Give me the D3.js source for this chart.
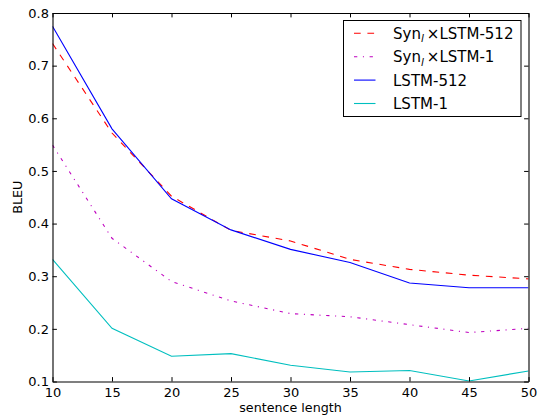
<!DOCTYPE html>
<html>
<head>
<meta charset="utf-8">
<script src="https://cdn.jsdelivr.net/npm/d3@7"></script>
<style>
  body { margin: 0; background: #fff; }
  svg { font-family: "DejaVu Sans", sans-serif; }
</style>
</head>
<body>
<div id="chart"></div>
<script>
var width = 542,
    height = 416;

// data
var lengths = [10, 15, 20, 25, 30, 35, 40, 45, 50];
var synLstm512 = [0.742, 0.572, 0.452, 0.387, 0.367, 0.332, 0.313, 0.302, 0.295];
var synLstm1 = [0.549, 0.372, 0.290, 0.253, 0.229, 0.223, 0.208, 0.193, 0.201];
var lstm512 = [0.775, 0.580, 0.447, 0.388, 0.351, 0.326, 0.287, 0.278, 0.278];
var lstm1 = [0.332, 0.201, 0.148, 0.153, 0.131, 0.118, 0.121, 0.101, 0.120];
var xTicks = [10, 15, 20, 25, 30, 35, 40, 45, 50];
var yTicks = [0.1, 0.2, 0.3, 0.4, 0.5, 0.6, 0.7, 0.8];

var series = [
  {name: "LSTM-512", syn: true, values: synLstm512, color: "#ff0000", dash: "6.7,6.7"},
  {name: "LSTM-1", syn: true, values: synLstm1, color: "#bf00bf", dash: "3.3,5.6,1.1,5.6"},
  {name: "LSTM-512", syn: false, values: lstm512, color: "#0000ff", dash: null},
  {name: "LSTM-1", syn: false, values: lstm1, color: "#00bfbf", dash: null}
];

var padL = 52.5, padR = 528.5, padT = 13, padB = 381.5;

var x = d3.scaleLinear().domain([10, 50]).range([padL, padR]);
var y = d3.scaleLinear().domain([0.1, 0.8]).range([padB, padT]);

var svg = d3.select("#chart").append("svg")
    .attr("width", width)
    .attr("height", height);

// lines
var line = d3.line()
    .x(function(d, i) { return x(lengths[i]); })
    .y(function(d) { return y(d); });

var plot = svg.append("g");
plot.append("defs").append("clipPath").attr("id", "clip")
  .append("rect").attr("x", padL).attr("y", padT)
    .attr("width", padR - padL).attr("height", padB - padT);

series.forEach(function(s) {
  plot.append("path")
    .datum(s.values)
    .attr("clip-path", "url(#clip)")
    .attr("fill", "none")
    .attr("stroke", s.color)
    .attr("stroke-width", 1.1)
    .attr("stroke-dasharray", s.dash)
    .attr("d", line);
});

// axes, ticks inward on all four sides
var fmt = d3.format(".1f");
svg.append("g")
    .attr("transform", "translate(0," + padB + ")")
    .call(d3.axisBottom(x).tickValues(xTicks).tickSizeInner(-4.4).tickSizeOuter(0).tickPadding(6));
svg.append("g")
    .attr("transform", "translate(0," + padT + ")")
    .call(d3.axisTop(x).tickValues(xTicks).tickSizeInner(-4.4).tickSizeOuter(0).tickFormat(""));
svg.append("g")
    .attr("transform", "translate(" + padL + ",0)")
    .call(d3.axisLeft(y).tickValues(yTicks).tickSizeInner(-4.4).tickSizeOuter(0).tickPadding(3.5).tickFormat(fmt));
svg.append("g")
    .attr("transform", "translate(" + padR + ",0)")
    .call(d3.axisRight(y).tickValues(yTicks).tickSizeInner(-4.4).tickSizeOuter(0).tickFormat(""));

svg.selectAll(".domain").attr("stroke", "#000").attr("stroke-width", 1.1);
svg.selectAll(".tick line").attr("stroke", "#000").attr("stroke-width", 1);
svg.selectAll(".tick text")
    .attr("fill", "#000")
    .style("font-size", "13px")
    .style("font-family", "DejaVu Sans");

svg.append("text")
    .attr("x", (padL + padR) / 2)
    .attr("y", 412)
    .attr("text-anchor", "middle")
    .style("font-size", "12.7px")
    .text("sentence length");

svg.append("text")
    .attr("transform", "translate(21.5," + (padT + padB) / 2 + ") rotate(-90)")
    .attr("text-anchor", "middle")
    .style("font-size", "12.7px")
    .text("BLEU");

// legend
var legend = svg.append("g");
legend.append("rect")
    .attr("x", 343.5).attr("y", 20.5)
    .attr("width", 177.5).attr("height", 96)
    .attr("fill", "#fff")
    .attr("stroke", "#000")
    .attr("stroke-width", 1);

series.forEach(function(s, i) {
  var cy = 33.3 + i * 23.4;
  legend.append("line")
    .attr("x1", 354).attr("x2", 375.5)
    .attr("y1", cy).attr("y2", cy)
    .attr("stroke", s.color)
    .attr("stroke-width", 1.1)
    .attr("stroke-dasharray", s.dash);
  var t = legend.append("text")
    .attr("x", 393)
    .attr("y", cy + 5.4)
    .style("font-size", "15px");
  if (s.syn) {
    t.append("tspan").text("Syn");
    t.append("tspan")
      .attr("dy", 3.5)
      .style("font-size", "10.5px")
      .style("font-style", "italic")
      .text("l");
    t.append("tspan").attr("dy", -3.5).attr("dx", 3).text("\u00d7");
    t.append("tspan").text(s.name);
  } else {
    t.text(s.name);
  }
});
</script>
</body>
</html>
